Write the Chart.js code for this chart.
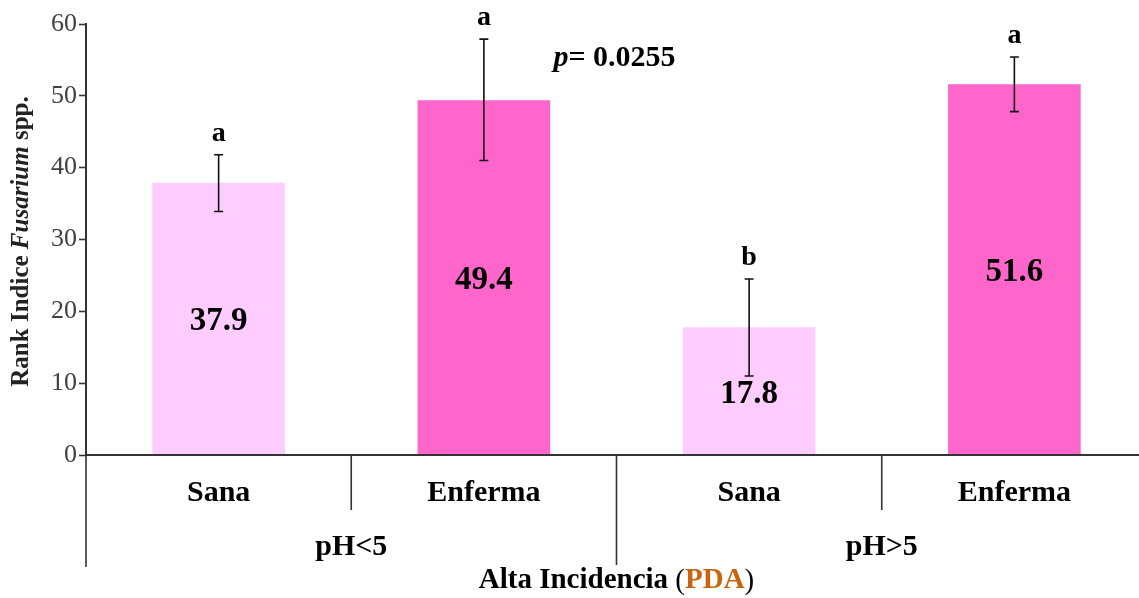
<!DOCTYPE html>
<html>
<head>
<meta charset="utf-8">
<script src="https://cdn.jsdelivr.net/npm/chart.js@4.4.1/dist/chart.umd.min.js"></script>
<style>
  html, body { margin: 0; padding: 0; background: #fff; overflow: hidden; }
  #wrap { width: 1150px; height: 598px; }
</style>
</head>
<body>
<div id="wrap"><canvas id="rankChart" width="1150" height="598"></canvas></div>
<script>
// ===== DATA =====
const categories = ['Sana', 'Enferma', 'Sana', 'Enferma'];
const groups = ['pH<5', 'pH>5'];
const rankValues = [37.9, 49.4, 17.8, 51.6];
const errLow = [33.9, 41.0, 11.0, 47.8];
const errHigh = [41.8, 57.9, 24.5, 55.4];
const letters = ['a', 'a', 'b', 'a'];
const yTicks = [0, 10, 20, 30, 40, 50, 60];
const pText = '= 0.0255';

const barColors = ['#FFCCFF', '#FF66CC', '#FFCCFF', '#FF66CC'];
const SERIF = '"Liberation Serif", "Times New Roman", serif';
const AXIS = '#333333';

// draw a row of text runs with different fonts, centred on x
function drawRuns(ctx, runs, x, y) {
    let total = 0;
    runs.forEach(r => { ctx.font = r.font; total += ctx.measureText(r.text).width; });
    let cx = x - total / 2;
    ctx.textAlign = 'left';
    runs.forEach(r => {
        ctx.font = r.font;
        ctx.fillStyle = r.color || '#000';
        ctx.fillText(r.text, cx, y);
        cx += ctx.measureText(r.text).width;
    });
}

const overlayPlugin = {
    id: 'overlay',
    afterDatasetsDraw(chart) {
        const ctx = chart.ctx;
        const xs = chart.scales.x;
        const ys = chart.scales.y;
        const area = chart.chartArea;
        const y0 = ys.getPixelForValue(0);

        ctx.save();

        // error bars
        ctx.strokeStyle = '#111';
        ctx.lineWidth = 1.6;
        rankValues.forEach((v, i) => {
            const x = xs.getPixelForValue(i);
            const top = ys.getPixelForValue(errHigh[i]);
            const bot = ys.getPixelForValue(errLow[i]);
            ctx.beginPath();
            ctx.moveTo(x, top); ctx.lineTo(x, bot);
            ctx.moveTo(x - 4.5, top); ctx.lineTo(x + 4.5, top);
            ctx.moveTo(x - 4.5, bot); ctx.lineTo(x + 4.5, bot);
            ctx.stroke();
        });

        ctx.textBaseline = 'middle';
        ctx.textAlign = 'center';
        ctx.fillStyle = '#000';

        // value labels in the middle of each bar
        ctx.font = 'bold 33px ' + SERIF;
        rankValues.forEach((v, i) => {
            ctx.fillText(v.toFixed(1), xs.getPixelForValue(i), ys.getPixelForValue(v / 2) + 3);
        });

        // significance letters
        ctx.font = 'bold 28px ' + SERIF;
        letters.forEach((l, i) => {
            ctx.fillText(l, xs.getPixelForValue(i), ys.getPixelForValue(errHigh[i]) - 21);
        });

        // p value
        drawRuns(ctx, [
            { text: 'p', font: 'italic bold 30px ' + SERIF },
            { text: pText, font: 'bold 30px ' + SERIF }
        ], xs.getPixelForValue(1.5) - 2, ys.getPixelForValue(55.2));

        // x axis line
        ctx.strokeStyle = AXIS;
        ctx.lineWidth = 2;
        ctx.beginPath();
        ctx.moveTo(area.left - 1, y0);
        ctx.lineTo(chart.width, y0);
        ctx.stroke();

        // category separators
        ctx.lineWidth = 1.6;
        ctx.beginPath();
        ctx.moveTo(area.left, y0); ctx.lineTo(area.left, 567);
        for (let i = 0; i < categories.length - 1; i++) {
            const sx = (xs.getPixelForValue(i) + xs.getPixelForValue(i + 1)) / 2;
            ctx.moveTo(sx, y0);
            ctx.lineTo(sx, i % 2 === 1 ? 565 : 510);
        }
        ctx.stroke();

        // category labels
        ctx.textAlign = 'center';
        ctx.fillStyle = '#000';
        ctx.font = 'bold 30px ' + SERIF;
        categories.forEach((c, i) => ctx.fillText(c, xs.getPixelForValue(i), 493));

        // group labels
        groups.forEach((g, gi) => {
            const gx = (xs.getPixelForValue(gi * 2) + xs.getPixelForValue(gi * 2 + 1)) / 2;
            ctx.fillText(g, gx, 547);
        });

        // x axis title
        drawRuns(ctx, [
            { text: 'Alta Incidencia ', font: 'bold 29px ' + SERIF },
            { text: '(', font: '29px ' + SERIF },
            { text: 'PDA', font: 'bold 29px ' + SERIF, color: '#C8650E' },
            { text: ')', font: '29px ' + SERIF }
        ], (area.left + area.right) / 2, 581);

        // y axis title
        ctx.translate(22, (area.top + y0) / 2 + 2);
        ctx.rotate(-Math.PI / 2);
        drawRuns(ctx, [
            { text: 'Rank Indice ', font: 'bold 25px ' + SERIF, color: '#222' },
            { text: 'Fusarium', font: 'italic bold 25px ' + SERIF, color: '#222' },
            { text: ' spp.', font: 'bold 25px ' + SERIF, color: '#222' }
        ], 0, 0);

        ctx.restore();
    }
};

const ctx = document.getElementById('rankChart').getContext('2d');
const rankChart = new Chart(ctx, {
    type: 'bar',
    data: {
        labels: categories,
        datasets: [{
            data: rankValues,
            backgroundColor: barColors,
            borderWidth: 0,
            categoryPercentage: 1,
            barPercentage: 0.5
        }]
    },
    options: {
        responsive: false,
        animation: false,
        layout: { padding: { top: 24, right: 3, bottom: 143, left: 0 } },
        plugins: {
            legend: { display: false },
            tooltip: { enabled: false }
        },
        scales: {
            x: { display: false },
            y: {
                min: 0,
                max: 60,
                afterFit: scale => { scale.width = 86; },
                afterBuildTicks: scale => { scale.ticks = yTicks.map(v => ({ value: v })); },
                ticks: {
                    color: '#404040',
                    padding: 2,
                    font: { family: SERIF, size: 26 }
                },
                grid: {
                    drawOnChartArea: false,
                    tickLength: 7,
                    tickColor: AXIS,
                    tickWidth: 1.6
                },
                border: { display: true, color: AXIS, width: 2 }
            }
        }
    },
    plugins: [overlayPlugin]
});
</script>
</body>
</html>
